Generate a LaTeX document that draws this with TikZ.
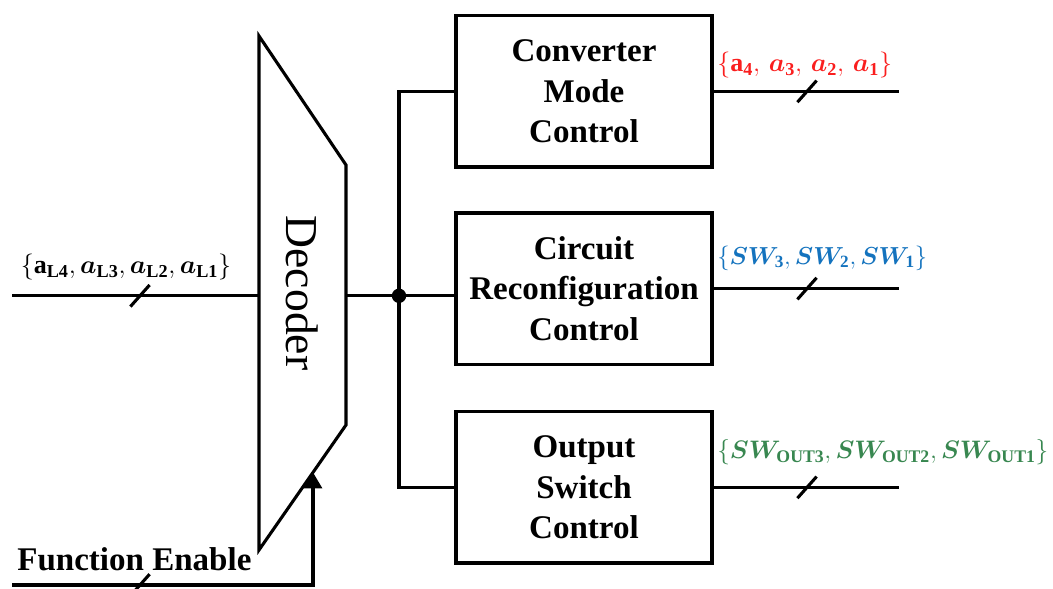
\RequirePackage{fix-cm}
\documentclass[tikz,border=0pt]{standalone}
\usepackage{fontspec}
\setmainfont{Liberation Serif}
\usepackage{bm}
\usetikzlibrary{arrows.meta,positioning}
\definecolor{sigred}{RGB}{250,30,30}
\definecolor{sigblue}{RGB}{20,115,190}
\definecolor{siggreen}{RGB}{56,135,80}
\tikzset{
  wire/.style={line width=2.2pt},
  ctrlbox/.style={draw,line width=2.2pt,minimum width=6.4cm,minimum height=3.78cm,
    align=center,font=\fontsize{23.5}{28.8}\selectfont\bfseries},
  buslabel/.style={anchor=west,inner sep=0pt,font=\fontsize{18.5}{20}\selectfont}
}
\newcommand{\busslash}[1]{\draw[wire] (#1) ++(-0.24,-0.27) -- ++(0.48,0.54);}
\begin{document}
\begin{tikzpicture}[line join=miter]
  \useasboundingbox (0,0) rectangle (26.325,14.725);
  \coordinate (DecA) at (6.475,13.825);
  \coordinate (DecB) at (8.65,10.6);
  \coordinate (DecC) at (8.65,4.1);
  \coordinate (DecD) at (6.475,0.975);
  \draw[wire] (DecA) -- (DecB) -- (DecC) -- (DecD) -- cycle;
  \node[rotate=-90,font=\fontsize{32.5}{36}\selectfont] (dec) at (7.55,7.4) {Decoder};
  \node[ctrlbox] (conv) at (14.6,12.44) {Converter\\Mode\\Control};
  \node[ctrlbox] (circ) at (14.6,7.51) {Circuit\\Reconfiguration\\Control};
  \node[ctrlbox] (outs) at (14.6,2.54) {Output\\Switch\\Control};
  \coordinate (In) at (0.3,7.33);
  \coordinate (DecIn) at (6.475,7.33);
  \coordinate (DecOut) at (8.65,7.33);
  \coordinate (Dot) at (9.975,7.33);
  \coordinate (InTick) at (3.5,7.33);
  \coordinate (EndX) at (22.475,0);
  \coordinate (TickX) at (20.175,0);
  \draw[wire] (In) -- (DecIn);
  \busslash{InTick}
  \node[buslabel,anchor=center] (inlbl) at (3.15,8.05)
    {$\{\mathbf{a}_{\mathbf{L4}},\bm{a}_{\mathbf{L3}},\bm{a}_{\mathbf{L2}},\bm{a}_{\mathbf{L1}}\}$};
  \draw[wire] (DecOut) -- (Dot) -- (Dot -| circ.west);
  \draw[wire] (conv.west) -| (Dot) |- (outs.west);
  \fill (Dot) circle (0.18);
  \draw[wire] (conv.east) -- (conv.east -| EndX);
  \draw[wire] (circ.east) -- (circ.east -| EndX);
  \draw[wire] (outs.east) -- (outs.east -| EndX);
  \busslash{conv.east -| TickX}
  \busslash{circ.east -| TickX}
  \busslash{outs.east -| TickX}
  \node[buslabel,text=sigred] (convlbl) at (17.925,13.1)
    {$\{\mathbf{a}_{\mathbf{4}},\,\bm{a}_{\mathbf{3}},\,\bm{a}_{\mathbf{2}},\,\bm{a}_{\mathbf{1}}\}$};
  \node[buslabel,text=sigblue,font=\fontsize{17.5}{20}\selectfont] (circlbl) at (17.925,8.275)
    {$\{\bm{SW}_{\mathbf{3}},\bm{SW}_{\mathbf{2}},\bm{SW}_{\mathbf{1}}\}$};
  \node[buslabel,text=siggreen,font=\fontsize{18}{20}\selectfont] (outslbl) at (17.925,3.425)
    {$\{\bm{SW}_{\mathbf{OUT3}},\bm{SW}_{\mathbf{OUT2}},\bm{SW}_{\mathbf{OUT1}}\}$};
  \node[font=\fontsize{23.5}{28}\selectfont\bfseries] (fen) at (3.36,0.75) {Function Enable};
  \coordinate (FeStart) at (0.3,0.1);
  \coordinate (FeCorner) at (7.825,0.1);
  \coordinate (FeTip) at (7.825,2.915);
  \coordinate (FeTick) at (3.5,0.1);
  \draw[wire,-{Triangle[length=0.4cm,width=0.45cm]}] (FeStart) -- (FeCorner) -- (FeTip);
  \busslash{FeTick}
\end{tikzpicture}
\end{document}
